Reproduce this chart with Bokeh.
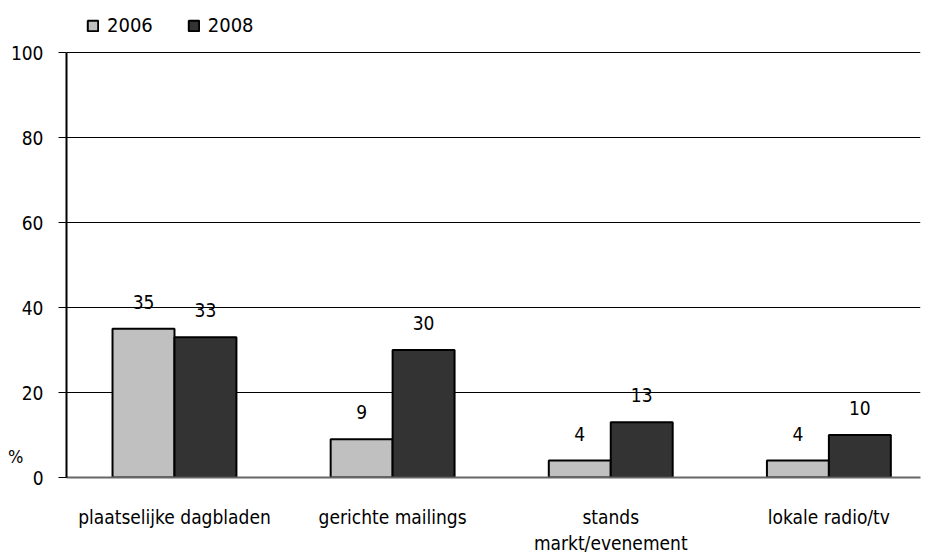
from bokeh.plotting import figure
from bokeh.models import ColumnDataSource, Legend, LegendItem, LinearAxis, FixedTicker, Range1d
from bokeh.core.properties import value
from bokeh.embed import file_html
from bokeh.resources import INLINE

categories = ["plaatselijke dagbladen", "gerichte mailings", "stands\nmarkt/evenement", "lokale radio/tv"]
series_names = ["2006", "2008"]
values_2006 = [35, 9, 4, 4]
values_2008 = [33, 30, 13, 10]
y_ticks = [0, 20, 40, 60, 80, 100]
unit_label = "%"
unit_label_pos = 5

FONT = "DejaVu Sans Condensed"
FS = "19px"
bar_w = 0.284

x_idx = list(range(len(categories)))
src06 = ColumnDataSource(dict(x=[i - bar_w / 2 for i in x_idx], top=values_2006,
                              lbl=[str(v) for v in values_2006]))
src08 = ColumnDataSource(dict(x=[i + bar_w / 2 for i in x_idx], top=values_2008,
                              lbl=[str(v) for v in values_2008]))

# frame extends above 100 so the legend sits inside it; the axis line is bounded to 0..100
p = figure(width=925, height=556, output_backend="svg", toolbar_location=None,
           x_range=Range1d(-0.495, 3.42), y_range=Range1d(0, 109.9),
           min_border_left=66, min_border_right=5, min_border_top=10, min_border_bottom=79)
p.outline_line_color = None
p.background_fill_color = "white"

r06 = p.vbar(x="x", top="top", bottom=0, width=bar_w, source=src06,
             fill_color="#c0c0c0", line_color="black", line_width=2)
r08 = p.vbar(x="x", top="top", bottom=0, width=bar_w, source=src08,
             fill_color="#333333", line_color="black", line_width=2)

for s in (src06, src08):
    p.text(x="x", y="top", text="lbl", source=s, text_align="center", text_baseline="bottom",
           y_offset=-20, text_font=value(FONT), text_font_size=FS, text_color="black")

# axes
p.xgrid.grid_line_color = None
p.ygrid.grid_line_color = "black"
p.ygrid.grid_line_width = 1
p.ygrid.ticker = FixedTicker(ticks=y_ticks[1:])

yax = p.yaxis[0]
yax.ticker = FixedTicker(ticks=y_ticks)
yax.bounds = (y_ticks[0], y_ticks[-1])
yax.axis_line_color = "black"
yax.axis_line_width = 2
yax.major_tick_out = 8
yax.major_tick_in = 0
yax.major_tick_line_color = "black"
yax.major_tick_line_width = 1
yax.minor_tick_line_color = None
yax.major_label_standoff = 15
yax.major_label_text_font = FONT
yax.major_label_text_font_size = FS
yax.major_label_text_color = "black"

# unit label "%" as a second, line-less left axis
unit_axis = LinearAxis(ticker=FixedTicker(ticks=[unit_label_pos]),
                       major_label_overrides={unit_label_pos: unit_label},
                       axis_line_color=None, major_tick_line_color=None, minor_tick_line_color=None,
                       major_tick_out=0, major_tick_in=0, major_label_standoff=-16,
                       major_label_text_font=FONT, major_label_text_font_size="18px",
                       major_label_text_color="black")
p.add_layout(unit_axis, "left")

xax = p.xaxis[0]
xax.ticker = FixedTicker(ticks=x_idx)
xax.major_label_overrides = {i: c for i, c in enumerate(categories)}
xax.axis_line_color = "#666666"
xax.axis_line_width = 2
xax.major_tick_line_color = None
xax.minor_tick_line_color = None
xax.major_tick_out = 0
xax.major_label_standoff = 28
xax.major_label_text_font = FONT
xax.major_label_text_font_size = FS
xax.major_label_text_color = "black"

legend = Legend(items=[LegendItem(label=series_names[0], renderers=[r06]),
                       LegendItem(label=series_names[1], renderers=[r08])],
                orientation="horizontal", location=(20, 440),
                border_line_color=None, background_fill_alpha=0,
                glyph_width=13, glyph_height=13, label_standoff=8, spacing=34,
                padding=0, margin=0,
                label_text_font=FONT, label_text_font_size="20px", label_text_color="black")
p.add_layout(legend)

open("out.html", "w").write(file_html(p, INLINE))
